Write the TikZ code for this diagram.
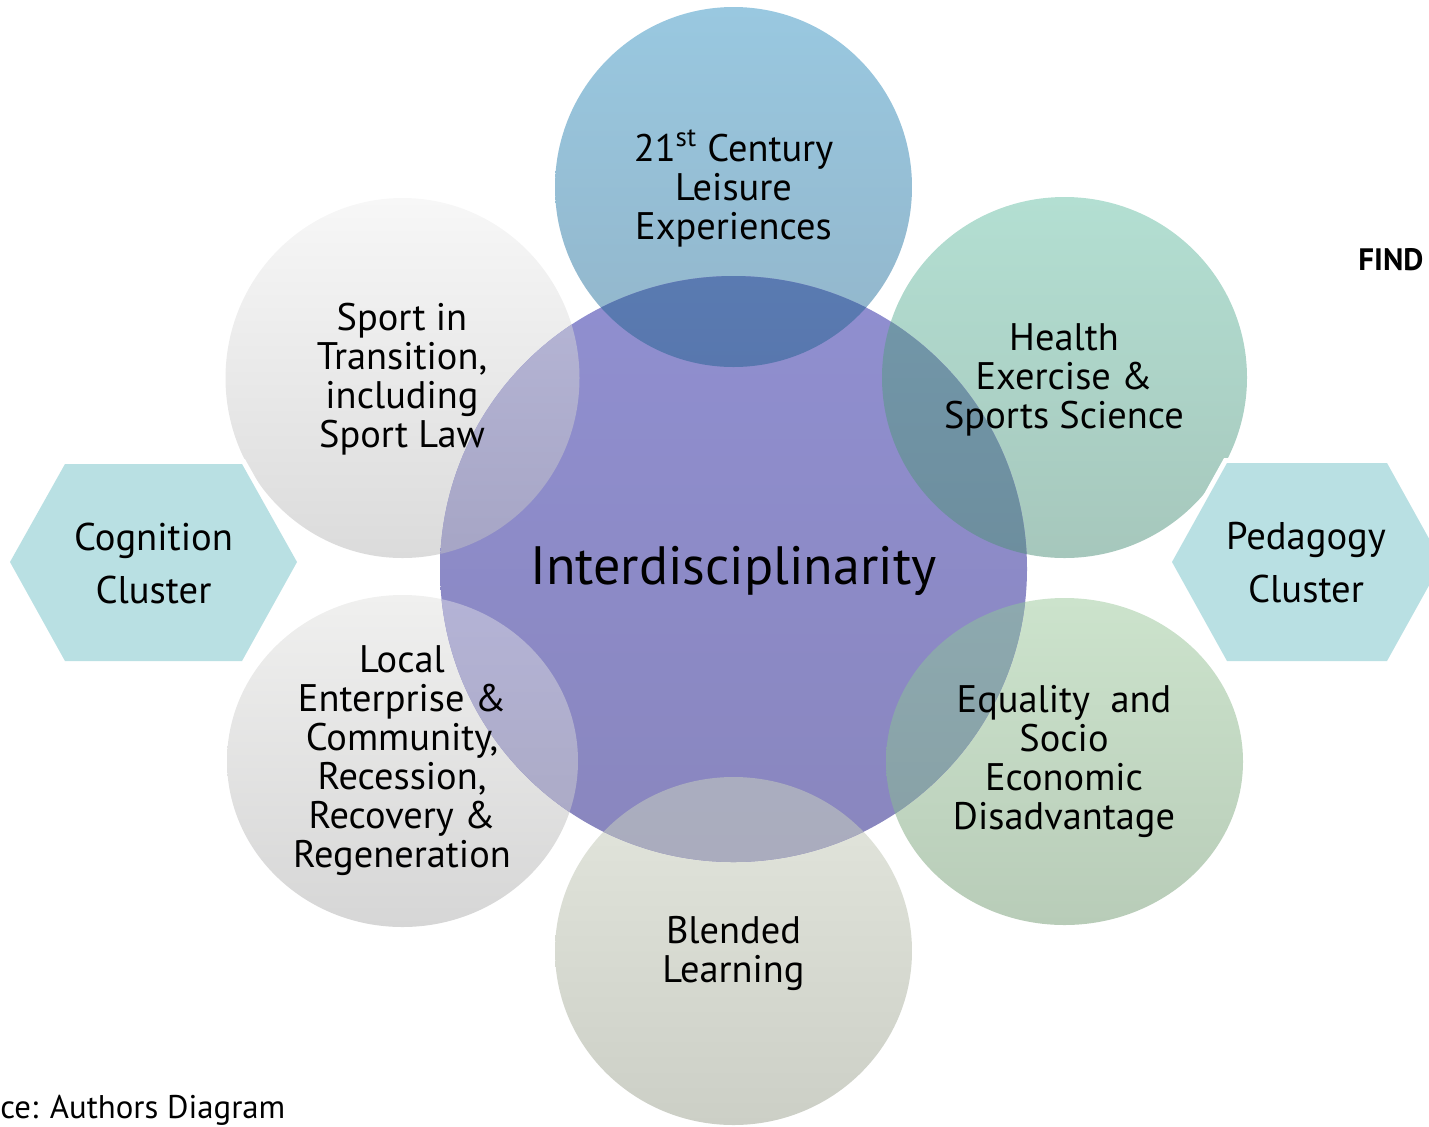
\documentclass[tikz,border=0pt]{standalone}
\usepackage{fontspec}
\setmainfont{PT Sans}
\definecolor{Ttop}{HTML}{99C8E0}
\definecolor{Tbot}{HTML}{92B5CA}
\definecolor{Htop}{HTML}{B3DFD2}
\definecolor{Hbot}{HTML}{A6C7BC}
\definecolor{Stop}{HTML}{F7F7F7}
\definecolor{Sbot}{HTML}{DBDBDB}
\definecolor{Ltop}{HTML}{F0F0EF}
\definecolor{Lbot}{HTML}{D6D6D6}
\definecolor{Etop}{HTML}{CCE3CC}
\definecolor{Ebot}{HTML}{B8CCB8}
\definecolor{Btop}{HTML}{E3E6DD}
\definecolor{Bbot}{HTML}{CCCFC6}
\definecolor{Ctop}{HTML}{908FD0}
\definecolor{Cbot}{HTML}{8986BE}
\definecolor{TCtop}{HTML}{5F85B9}
\definecolor{TCbot}{HTML}{5877AE}
\definecolor{SCtop}{HTML}{BBBBDB}
\definecolor{SCbot}{HTML}{A6A5C5}
\definecolor{HCtop}{HTML}{749AAD}
\definecolor{HCbot}{HTML}{6D8E9E}
\definecolor{LCtop}{HTML}{B4B3D6}
\definecolor{LCbot}{HTML}{A8A7BF}
\definecolor{ECtop}{HTML}{8DA9AF}
\definecolor{ECbot}{HTML}{869EA3}
\definecolor{BCtop}{HTML}{AAADBF}
\definecolor{BCbot}{HTML}{A8AABA}
\definecolor{hexc}{HTML}{B9E0E3}
\begin{document}
\begin{tikzpicture}[x=0.5pt,y=-0.5pt,
  circtext/.style={align=center,inner sep=0pt,font=\fontsize{19.2}{19.5}\selectfont},
  hextext/.style={align=center,inner sep=0pt,font=\fontsize{19.3}{26.5}\selectfont}]
\useasboundingbox (0,0) rectangle (1429,1126);
\clip (0,0) rectangle (1429,1126);
\coordinate (cT) at (733.5,187);
\coordinate (cS) at (402.5,378);
\coordinate (cH) at (1064.5,377.5);
\coordinate (cL) at (402.5,761);
\coordinate (cE) at (1064.5,761.5);
\coordinate (cB) at (733.5,951);
\coordinate (cC) at (733.5,569);
% outer circles
\shade[top color=Ttop,bottom color=Tbot] (cT) ellipse [x radius=89.25pt,y radius=90pt];
\shade[top color=Stop,bottom color=Sbot] (cS) ellipse [x radius=88.5pt,y radius=90pt];
\shade[top color=Htop,bottom color=Hbot] (cH) ellipse [x radius=91.25pt,y radius=90.25pt];
\shade[top color=Ltop,bottom color=Lbot] (cL) ellipse [x radius=87.75pt,y radius=83pt];
\shade[top color=Etop,bottom color=Ebot] (cE) ellipse [x radius=89.25pt,y radius=81.75pt];
\shade[top color=Btop,bottom color=Bbot] (cB) ellipse [x radius=89.25pt,y radius=87pt];
% centre circle
\shade[top color=Ctop,bottom color=Cbot] (cC) ellipse [x radius=146.75pt,y radius=146.5pt];
% overlaps
\begin{scope}
\clip (cC) ellipse [x radius=146.75pt,y radius=146.5pt];
\shade[top color=TCtop,bottom color=TCbot] (cT) ellipse [x radius=89.25pt,y radius=90pt];
\shade[top color=SCtop,bottom color=SCbot] (cS) ellipse [x radius=88.5pt,y radius=90pt];
\shade[top color=HCtop,bottom color=HCbot] (cH) ellipse [x radius=91.25pt,y radius=90.25pt];
\shade[top color=LCtop,bottom color=LCbot] (cL) ellipse [x radius=87.75pt,y radius=83pt];
\shade[top color=ECtop,bottom color=ECbot] (cE) ellipse [x radius=89.25pt,y radius=81.75pt];
\shade[top color=BCtop,bottom color=BCbot] (cB) ellipse [x radius=89.25pt,y radius=87pt];
\end{scope}
% hexagons
\draw[white,line width=5pt,line join=miter] (10,562) -- (65,464) -- (242,464) -- (297,562) -- (242,661) -- (65,661) -- cycle;
\fill[hexc] (10,562) -- (65,464) -- (242,464) -- (297,562) -- (242,661) -- (65,661) -- cycle;
\draw[white,line width=5pt,line join=miter] (1172,562) -- (1227,463) -- (1387,463) -- (1442,562) -- (1387,661) -- (1227,661) -- cycle;
\fill[hexc] (1172,562) -- (1227,463) -- (1387,463) -- (1442,562) -- (1387,661) -- (1227,661) -- cycle;
% texts
\node[circtext] (tT) at (733.5,188) {21\textsuperscript{st} Century\\Leisure\\Experiences};
\node[circtext] (tS) at (402,379) {Sport in\\Transition,\\including\\Sport Law};
\node[circtext] (tH) at (1064,380) {Health\\Exercise \&\\Sports Science};
\node[circtext] (tL) at (402,761) {Local\\Enterprise \&\\Community,\\Recession,\\Recovery \&\\Regeneration};
\node[circtext] (tE) at (1064,761) {Equality~ and\\Socio\\Economic\\Disadvantage};
\node[circtext] (tB) at (733.5,953) {Blended\\Learning};
\node[inner sep=0pt,font=\fontsize{27}{30}\selectfont] (tC) at (733.5,571) {Interdisciplinarity};
\node[hextext] (cog) at (153.5,563) {Cognition\\Cluster};
\node[hextext] (ped) at (1306,563) {Pedagogy\\Cluster};
\node[anchor=base west,inner sep=0pt,font=\fontsize{15.5}{18}\selectfont\bfseries] (find) at (1358,270) {FIND};
\node[anchor=base west,inner sep=0pt,font=\fontsize{16.4}{18}\selectfont] (src) at (0,1118) {ce: Authors Diagram};
\end{tikzpicture}
\end{document}
